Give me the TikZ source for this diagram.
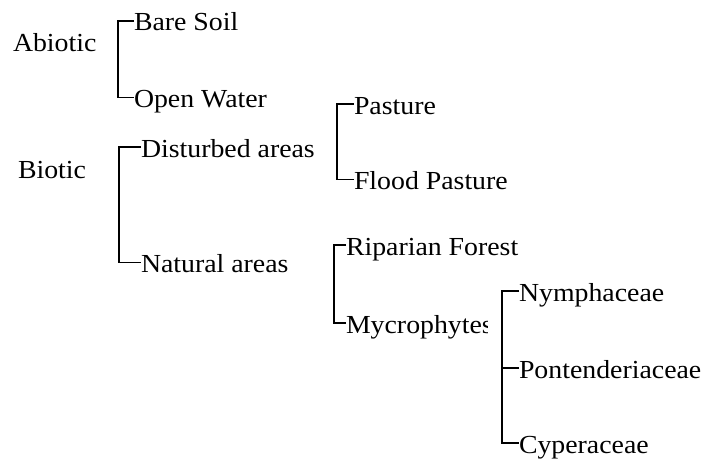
\documentclass[tikz,border=0pt]{standalone}
\usepackage{fontspec}
\setmainfont[FakeStretch=1.07]{Liberation Serif}
\begin{document}
\begin{tikzpicture}[x=1pt,y=-1pt,
  lbl/.style={anchor=west,inner sep=0pt,outer sep=0pt,text height=22pt,text depth=2pt,
    font=\fontsize{26}{30}\selectfont},
  brk/.style={line width=1.7pt,black}]
\useasboundingbox[fill=white] (0,0) rectangle (704,460);
% roots
\node[lbl] (abiotic) at (13,42) {Abiotic};
\node[lbl] (biotic) at (18,168) {Biotic};
% level 1
\node[lbl] (bare) at (134,21) {Bare Soil};
\node[lbl] (open) at (134,97.5) {Open Water};
\node[lbl] (dist) at (141,147) {Disturbed areas};
\node[lbl] (nat) at (141,262.5) {Natural areas};
% level 2
\node[lbl] (past) at (354,104) {Pasture};
\node[lbl] (flood) at (354,179.5) {Flood Pasture};
\node[lbl] (rip) at (346,245) {Riparian Forest};
\begin{scope}
\clip (340,300) rectangle (487,345);
\node[lbl] (myc) at (346,323) {Mycrophytes};
\end{scope}
% level 3
\node[lbl] (nym) at (519,291) {Nymphaceae};
\node[lbl] (pon) at (519,368) {Pontenderiaceae};
\node[lbl] (cyp) at (519,443) {Cyperaceae};
% brackets
\draw[brk] (bare.west) -- ++(-16,0) |- (open.west);
\draw[brk] (dist.west) -- ++(-22,0) |- (nat.west);
\draw[brk] (past.west) -- ++(-17,0) |- (flood.west);
\draw[brk] (rip.west) -- ++(-12,0) |- (myc.west);
\draw[brk] (nym.west) -- ++(-17,0) |- (cyp.west);
\draw[brk] (pon.west) -- ++(-17,0);
\end{tikzpicture}
\end{document}
